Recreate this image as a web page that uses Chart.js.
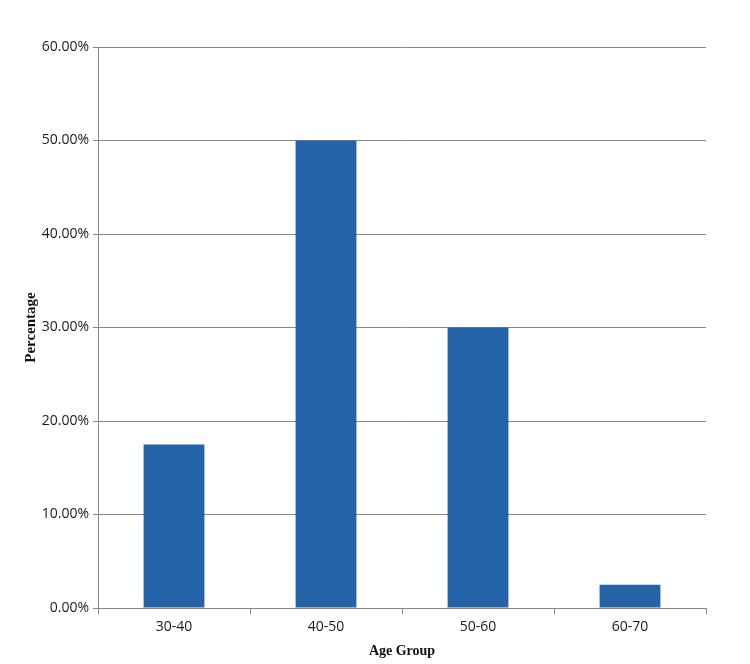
<!DOCTYPE html>
<html>
<head>
<meta charset="utf-8">
<script src="https://cdn.jsdelivr.net/npm/chart.js@4"></script>
<style>
  html, body { margin: 0; padding: 0; background: #fff; }
  #wrap { width: 750px; height: 664px; }
</style>
</head>
<body>
<div id="wrap"><canvas id="ageChart" width="750" height="664"></canvas></div>
<script>
const categories = ['30-40', '40-50', '50-60', '60-70'];
const percentages = [17.5, 50, 30, 2.5];
const yTicks = [0, 10, 20, 30, 40, 50, 60];

const tickFont = { family: '"Open Sans", "Noto Sans", sans-serif', size: 14 };
const titleFont = { family: '"Liberation Serif", "DejaVu Serif", serif', size: 15, weight: 'bold' };

const ctx = document.getElementById('ageChart').getContext('2d');
const ageChart = new Chart(ctx, {
    type: 'bar',
    data: {
        labels: categories,
        datasets: [{
            label: 'Percentage',
            data: percentages,
            backgroundColor: '#2563a9',
            borderWidth: 0,
            barPercentage: 0.4,
            categoryPercentage: 1.0
        }]
    },
    options: {
        responsive: false,
        animation: false,
        layout: { padding: { top: 47, right: 44, bottom: 4, left: 22 } },
        plugins: {
            legend: { display: false },
            tooltip: { enabled: false }
        },
        scales: {
            x: {
                offset: true,
                grid: {
                    offset: true,
                    drawOnChartArea: false,
                    color: '#888',
                    tickLength: 6
                },
                border: { color: '#888', width: 1 },
                ticks: { color: '#1a1a1a', font: tickFont, padding: 5 },
                title: { display: true, text: 'Age Group', color: '#111', font: { ...titleFont, size: 14 }, padding: { top: 0, bottom: 0 } },
                afterFit: scale => { scale.height = 52; }
            },
            y: {
                min: 0,
                max: 60,
                afterBuildTicks: scale => { scale.ticks = yTicks.map(v => ({ value: v })); },
                grid: { color: '#888', tickLength: 5 },
                border: { color: '#888', width: 1 },
                ticks: {
                    color: '#1a1a1a',
                    font: tickFont,
                    padding: 4,
                    callback: v => v.toFixed(2) + '%'
                },
                title: { display: true, text: 'Percentage', color: '#111', font: titleFont, padding: { top: 0, bottom: 0 } },
                afterFit: scale => { scale.width = 76; }
            }
        }
    }
});
</script>
</body>
</html>
